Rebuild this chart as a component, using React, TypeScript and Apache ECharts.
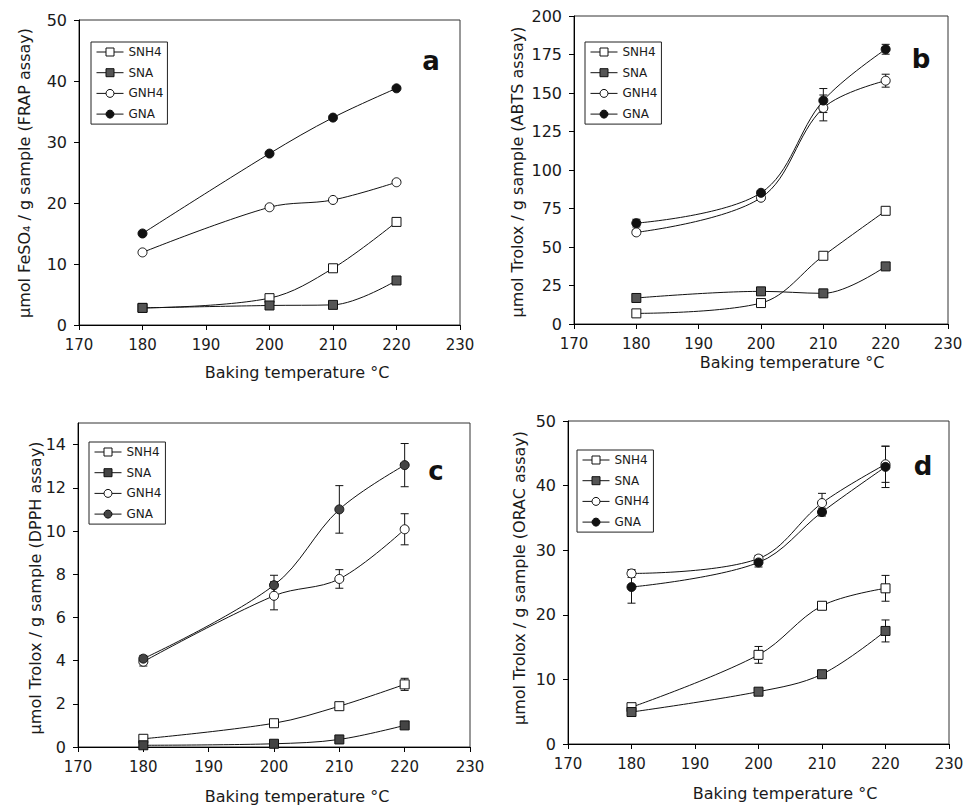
import React, { useEffect, useRef } from "react";
import * as echarts from "echarts";

// ---------- data ----------
const temps = [180, 200, 210, 220];
const seriesNames = ["SNH4", "SNA", "GNH4", "GNA"];

const xTicks = { min: 170, max: 230, interval: 10 };

// Panel a: FRAP
const A_SNH4 = [2.8, 4.4, 9.3, 16.9];
const A_SNA = [2.8, 3.2, 3.3, 7.3];
const A_GNH4 = [11.9, 19.3, 20.5, 23.4];
const A_GNA = [15.0, 28.1, 34.0, 38.8];

// Panel b: ABTS
const B_SNH4 = [6.9, 13.6, 44.3, 73.5];
const B_SNA = [16.9, 21.2, 19.9, 37.4];
const B_GNH4 = [59.5, 82.0, 140.3, 158.0];
const B_GNA = [65.5, 85.2, 145.1, 178.4];
const B_SNH4_err = [0.8, 1.0, 1.5, 1.5];
const B_SNA_err = [1.0, 1.0, 1.0, 1.5];
const B_GNH4_err = [1.5, 1.0, 8.4, 4.2];
const B_GNA_err = [2.5, 1.5, 7.8, 3.2];

// Panel c: DPPH
const C_SNH4 = [0.38, 1.1, 1.89, 2.9];
const C_SNA = [0.08, 0.15, 0.35, 1.0];
const C_GNH4 = [3.95, 7.0, 7.78, 10.08];
const C_GNA = [4.09, 7.49, 11.0, 13.05];
const C_SNH4_err = [0.05, 0.05, 0.08, 0.28];
const C_SNA_err = [0.02, 0.03, 0.05, 0.05];
const C_GNH4_err = [0.2, 0.65, 0.43, 0.72];
const C_GNA_err = [0.15, 0.46, 1.1, 1.0];
const C_Y_TICKS = [0, 2, 4, 6, 8, 10, 12, 14];

// Panel d: ORAC
const D_SNH4 = [5.7, 13.8, 21.4, 24.1];
const D_SNA = [4.95, 8.1, 10.8, 17.5];
const D_GNH4 = [26.4, 28.7, 37.3, 43.3];
const D_GNA = [24.3, 28.1, 35.9, 42.9];
const D_SNH4_err = [0.4, 1.3, 0.6, 2.0];
const D_SNA_err = [0.4, 0.3, 0.4, 1.7];
const D_GNH4_err = [0.6, 0.5, 1.5, 2.8];
const D_GNA_err = [2.5, 0.7, 0.6, 3.2];

const yTitles = [
  "μmol FeSO₄ / g sample (FRAP assay)",
  "μmol Trolox / g sample (ABTS assay)",
  "μmol Trolox / g sample (DPPH assay)",
  "μmol Trolox / g sample (ORAC assay)",
];
const xTitle = "Baking temperature °C";
const panelLetters = ["a", "b", "c", "d"];

// ---------- layout / style ----------
const FONT = "DejaVu Sans";
const TEXT = "#1a1a1a";

const panels = [
  {
    grid: { left: 79, top: 20, width: 381, height: 305 },
    y: { min: 0, max: 50, interval: 10 },
    values: [A_SNH4, A_SNA, A_GNH4, A_GNA],
    errs: null as number[][] | null,
    fills: ["#fff", "#555", "#fff", "#111"],
    legend: { left: 91, top: 42 },
    yTitle: { x: 24, y: 173 },
    xTitle: { x: 297, y: 372 },
    letter: { x: 431, y: 61 },
  },
  {
    grid: { left: 574, top: 16, width: 374, height: 308 },
    y: { min: 0, max: 200, interval: 25 },
    values: [B_SNH4, B_SNA, B_GNH4, B_GNA],
    errs: [B_SNH4_err, B_SNA_err, B_GNH4_err, B_GNA_err],
    fills: ["#fff", "#555", "#fff", "#111"],
    legend: { left: 585, top: 42 },
    yTitle: { x: 517, y: 172 },
    xTitle: { x: 792, y: 362 },
    letter: { x: 921, y: 59 },
  },
  {
    grid: { left: 78, top: 423, width: 392, height: 324 },
    y: { min: 0, max: 15, interval: 2, ticks: C_Y_TICKS },
    values: [C_SNH4, C_SNA, C_GNH4, C_GNA],
    errs: [C_SNH4_err, C_SNA_err, C_GNH4_err, C_GNA_err],
    fills: ["#fff", "#444", "#fff", "#444"],
    legend: { left: 89, top: 442 },
    yTitle: { x: 35, y: 588 },
    xTitle: { x: 297, y: 796 },
    letter: { x: 436, y: 471 },
  },
  {
    grid: { left: 568, top: 421, width: 381, height: 323 },
    y: { min: 0, max: 50, interval: 10 },
    values: [D_SNH4, D_SNA, D_GNH4, D_GNA],
    errs: [D_SNH4_err, D_SNA_err, D_GNH4_err, D_GNA_err],
    fills: ["#fff", "#555", "#fff", "#111"],
    legend: { left: 577, top: 450 },
    yTitle: { x: 519, y: 578 },
    xTitle: { x: 785, y: 793 },
    letter: { x: 923, y: 466 },
  },
];

const symbols = ["rect", "rect", "circle", "circle"];

function buildOption() {
  const grid: any[] = [];
  const xAxis: any[] = [];
  const yAxis: any[] = [];
  const series: any[] = [];
  const legend: any[] = [];
  const graphic: any[] = [];

  panels.forEach((p, i) => {
    grid.push({
      ...p.grid,
      show: true,
      borderColor: "#333",
      borderWidth: 1,
      backgroundColor: "transparent",
    });
    xAxis.push({
      type: "value",
      gridIndex: i,
      min: xTicks.min,
      max: xTicks.max,
      interval: xTicks.interval,
      axisLine: { show: true, onZero: false, lineStyle: { color: "#000", width: 1 } },
      axisTick: { show: true, inside: false, length: 5, lineStyle: { color: "#000" } },
      axisLabel: { margin: 12, color: TEXT, fontSize: 15, fontFamily: FONT },
      splitLine: { show: false },
    });
    const yax: any = {
      type: "value",
      gridIndex: i,
      min: p.y.min,
      max: p.y.max,
      interval: p.y.interval,
      axisLine: { show: true, onZero: false, lineStyle: { color: "#000", width: 1 } },
      axisTick: { show: true, inside: false, length: 5, lineStyle: { color: "#000" } },
      axisLabel: { margin: 12, color: TEXT, fontSize: 16, fontFamily: FONT },
      splitLine: { show: false },
    };
    if ((p.y as any).ticks) {
      yax.axisTick.customValues = (p.y as any).ticks;
      yax.axisLabel.customValues = (p.y as any).ticks;
    }
    yAxis.push(yax);

    seriesNames.forEach((name, k) => {
      if (p.errs) {
        const ev = p.errs[k];
        series.push({
          type: "custom",
          name: name + " error",
          xAxisIndex: i,
          yAxisIndex: i,
          silent: true,
          z: 1,
          encode: { x: 0, y: 1 },
          data: temps.map((t, j) => [t, p.values[k][j], ev[j]]),
          renderItem: (params: any, api: any) => {
            const x = api.value(0);
            const y = api.value(1);
            const e = api.value(2);
            const a = api.coord([x, y + e]);
            const b = api.coord([x, y - e]);
            const hw = 4;
            const style = { stroke: "#111", lineWidth: 1, fill: null };
            return {
              type: "group",
              children: [
                { type: "line", shape: { x1: a[0], y1: a[1], x2: b[0], y2: b[1] }, style },
                { type: "line", shape: { x1: a[0] - hw, y1: a[1], x2: a[0] + hw, y2: a[1] }, style },
                { type: "line", shape: { x1: b[0] - hw, y1: b[1], x2: b[0] + hw, y2: b[1] }, style },
              ],
            };
          },
        });
      }
      series.push({
        type: "line",
        name,
        xAxisIndex: i,
        yAxisIndex: i,
        z: 3,
        smooth: 0.35,
        symbol: symbols[k],
        symbolSize: 9,
        showAllSymbol: true,
        lineStyle: { color: "#111", width: 1 },
        itemStyle: { color: p.fills[k], borderColor: "#111", borderWidth: 1 },
        data: temps.map((t, j) => [t, p.values[k][j]]),
      });
    });

    legend.push({
      orient: "vertical",
      left: p.legend.left,
      top: p.legend.top,
      padding: [4, 4, 4, 5],
      borderColor: "#222",
      borderWidth: 1,
      itemWidth: 27,
      itemHeight: 10,
      itemGap: 8.7,
      selectedMode: false,
      textStyle: { fontSize: 12, lineHeight: 12, color: TEXT, fontFamily: FONT },
      data: seriesNames.map((name, k) => ({
        name,
        itemStyle: { color: p.fills[k], borderColor: "#111", borderWidth: 1 },
        lineStyle: { color: "#111", width: 1 },
      })),
    });

    graphic.push({
      type: "text",
      x: p.yTitle.x,
      y: p.yTitle.y,
      rotation: Math.PI / 2,
      style: {
        text: yTitles[i],
        fontSize: 16,
        fontFamily: FONT,
        fill: TEXT,
        textAlign: "center",
        textVerticalAlign: "middle",
      },
    });
    graphic.push({
      type: "text",
      x: p.xTitle.x,
      y: p.xTitle.y,
      style: {
        text: xTitle,
        fontSize: 16,
        fontFamily: FONT,
        fill: TEXT,
        textAlign: "center",
        textVerticalAlign: "middle",
      },
    });
    graphic.push({
      type: "text",
      x: p.letter.x,
      y: p.letter.y,
      style: {
        text: panelLetters[i],
        fontSize: 26,
        fontWeight: "bold",
        fontFamily: FONT,
        fill: "#111",
        textAlign: "center",
        textVerticalAlign: "middle",
      },
    });
  });

  return {
    animation: false,
    backgroundColor: "#fff",
    grid,
    xAxis,
    yAxis,
    series,
    legend,
    graphic,
  };
}

export default function App() {
  const ref = useRef<HTMLDivElement>(null);
  useEffect(() => {
    if (!ref.current) return;
    const chart = echarts.init(ref.current, undefined, { renderer: "svg" });
    chart.setOption(buildOption() as any);
    return () => chart.dispose();
  }, []);
  return (
    <div
      ref={ref}
      style={{ position: "absolute", left: 0, top: 0, width: 976, height: 809, background: "#fff" }}
    />
  );
}
